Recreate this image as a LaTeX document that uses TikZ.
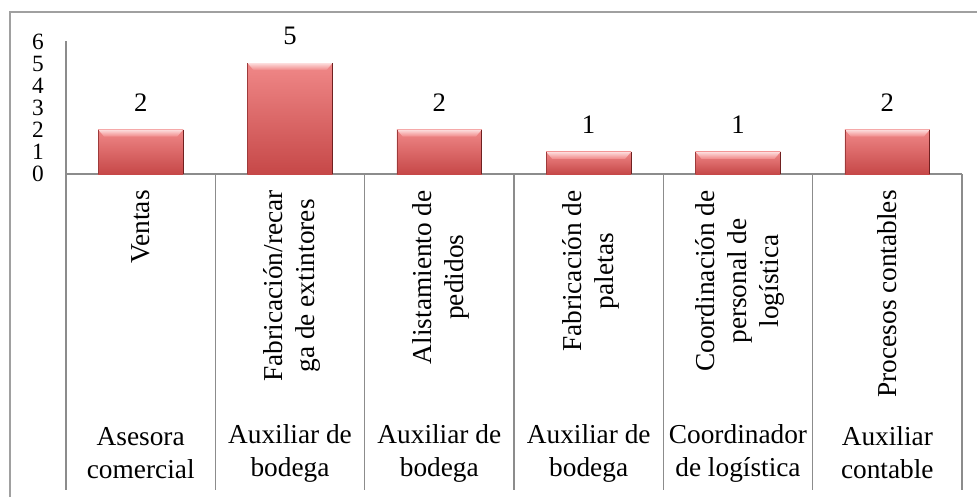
\documentclass[tikz,border=0pt]{standalone}
\usepackage{fontspec}
\setmainfont{Liberation Serif}
\usetikzlibrary{positioning}

\definecolor{barTop}{RGB}{240,136,136}
\definecolor{barBot}{RGB}{198,72,72}
\definecolor{barHi}{RGB}{253,222,222}
\definecolor{barEdge}{RGB}{112,32,32}
\definecolor{axisGray}{RGB}{140,140,140}
\definecolor{frameGray}{RGB}{160,160,160}

\tikzset{
  gridline/.style={draw=axisGray, line width=1.1pt},
  catlabel/.style={rotate=90, anchor=east, align=center, inner sep=0pt,
    font=\fontsize{20.5}{24}\selectfont},
  joblabel/.style={align=center, inner sep=0pt, font=\fontsize{20.5}{24.75}\selectfont},
  vallabel/.style={inner sep=0pt, font=\fontsize{20}{24}\selectfont},
  ticklabel/.style={inner sep=0pt, anchor=east, font=\fontsize{17.5}{20}\selectfont},
}

\begin{document}
\begin{tikzpicture}[x=0.75pt, y=-0.75pt]
    \useasboundingbox (0,0) rectangle (977,497);

    % Frame
    \draw[frameGray, line width=1.1pt] (10,497) -- (10,12) -- (977,12);

    % Axis and column grid
    \draw[gridline] (66,41) -- (66,490);
    \draw[gridline] (66,174) -- (962,174);
    \foreach \i in {1,...,6}
        \draw[gridline] (66+149.33*\i,174) -- (66+149.33*\i,490);

    % Tick labels
    \foreach \t in {0,...,6}
        \node[ticklabel] (tick\t) at (44,174-22*\t) {\t};

    % Bars and values
    \foreach \v [count=\i] in {2,5,2,1,1,2} {
        \pgfmathsetmacro{\cx}{66+149.33*(\i-0.5)}
        \pgfmathsetmacro{\ty}{174-22.2*\v}
        \shade[top color=barTop, bottom color=barBot] (\cx-42.5,\ty) rectangle (\cx+42.5,174);
        \shade[top color=barHi, bottom color=barTop]
            (\cx-42.5,\ty) -- (\cx+42.5,\ty) -- (\cx+36.5,\ty+7) -- (\cx-36.5,\ty+7) -- cycle;
        \draw[barEdge, line width=0.8pt] (\cx+42.5,\ty) -- (\cx+42.5,174);
        \draw[barBot!80!black, line width=0.4pt] (\cx-42.5,\ty) -- (\cx-42.5,174);
        \node[vallabel] (val\i) at (\cx,\ty-27) {\v};
    }

    % Task labels
    \node[catlabel] (cat1) at (140.7,190) {Ventas};
    \node[catlabel] (cat2) at (292,190) {Fabricación/recar\\ga de extintores};
    \node[catlabel] (cat3) at (441.3,190) {Alistamiento de\\pedidos};
    \node[catlabel] (cat4) at (590.7,190) {Fabricación de\\paletas};
    \node[catlabel] (cat5) at (740,190) {Coordinación de\\personal de\\logística};
    \node[catlabel] (cat6) at (887.3,190) {Procesos contables};

    % Job labels
    \node[joblabel] (job1) at (140.7,453) {Asesora\\comercial};
    \node[joblabel] (job2) at (290,453) {Auxiliar de\\bodega};
    \node[joblabel] (job3) at (439.3,453) {Auxiliar de\\bodega};
    \node[joblabel] (job4) at (588.7,453) {Auxiliar de\\bodega};
    \node[joblabel] (job5) at (738,453) {Coordinador\\de logística};
    \node[joblabel] (job6) at (887.3,453) {Auxiliar\\contable};
\end{tikzpicture}
\end{document}
